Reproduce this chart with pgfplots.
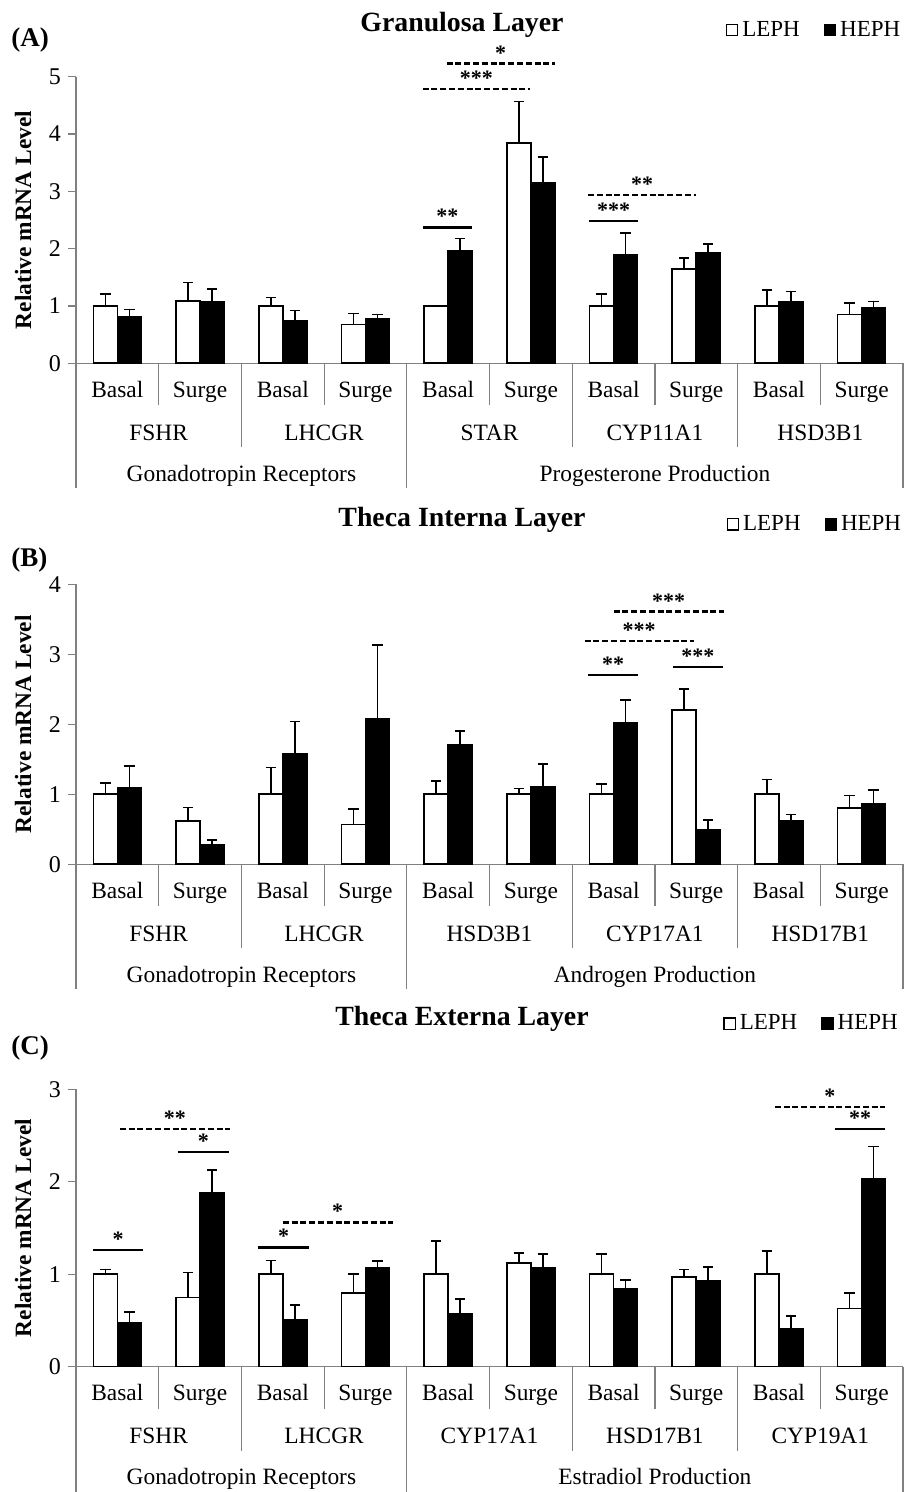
\documentclass[border=0pt]{standalone}
\usepackage{fontspec}
\setmainfont{Liberation Serif}
\usepackage{pgfplots}
\pgfplotsset{compat=1.18}
\usepackage{pgfplotstable}

% x, LEPH mean, LEPH err, HEPH mean, HEPH err
\pgfplotstableread{
x w we h he
0 1.00 0.21 0.81 0.13
1 1.09 0.32 1.08 0.22
2 1.00 0.15 0.74 0.18
3 0.68 0.19 0.77 0.08
4 1.00 0.01 1.96 0.22
5 3.84 0.73 3.15 0.45
6 1.00 0.21 1.89 0.38
7 1.64 0.20 1.93 0.15
8 1.00 0.28 1.08 0.17
9 0.85 0.20 0.97 0.11
}\dataA
\pgfplotstableread{
x w we h he
0 1.00 0.16 1.09 0.31
1 0.62 0.19 0.28 0.07
2 1.00 0.38 1.58 0.46
3 0.57 0.22 2.08 1.05
4 1.00 0.19 1.70 0.20
5 1.00 0.08 1.10 0.33
6 1.00 0.15 2.02 0.33
7 2.20 0.30 0.49 0.14
8 1.00 0.21 0.62 0.09
9 0.80 0.18 0.86 0.20
}\dataB
\pgfplotstableread{
x w we h he
0 1.00 0.05 0.48 0.11
1 0.75 0.27 1.88 0.25
2 1.00 0.15 0.51 0.16
3 0.80 0.20 1.07 0.07
4 1.00 0.36 0.57 0.16
5 1.12 0.11 1.07 0.15
6 1.00 0.22 0.84 0.10
7 0.97 0.08 0.93 0.15
8 1.00 0.25 0.41 0.14
9 0.63 0.17 2.03 0.35
}\dataC

\tikzset{
  sig/.style={line width=1.1pt, black},
  sigd/.style={line width=1.1pt, black, dash pattern=on 3pt off 1.4pt},
  star/.style={font=\bfseries\fontsize{11}{12}\selectfont, anchor=south, inner sep=0pt, yshift=1.2pt},
  sep/.style={draw=gray, line width=0.6pt},
  lab/.style={font=\fontsize{11.7}{14}\selectfont, anchor=base, inner sep=0pt},
}
\pgfplotsset{
  panel/.style={
    scale only axis, width=413.5pt,
    xmin=-0.5, xmax=9.5, ymin=0,
    axis x line*=bottom, axis y line*=left,
    axis line style={draw=gray, line width=0.6pt, -},
    xtick=\empty, ytick distance=1,
    tick align=outside, major tick length=4pt,
    tick style={draw=gray, line width=0.6pt},
    yticklabel style={font=\fontsize{12}{14}\selectfont},
    /pgf/number format/assume math mode=true,
    ylabel={Relative mRNA Level},
    ylabel style={font=\bfseries\fontsize{11.7}{14}\selectfont, at={(axis description cs:-0.064,0.5)}, anchor=center},
    ybar=0pt, bar width=0.29,
    clip=false,
    legend columns=2,
    legend style={draw=none, fill=none, inner sep=0pt, font=\fontsize{11.5}{13}\selectfont,
      /tikz/every even column/.append style={column sep=10pt}},
    legend image code/.code={\draw[#1, line width=0.6pt] (0pt,-2.8pt) rectangle (5.6pt,2.8pt);},
  },
  bw/.style={draw=black, fill=white, line width=0.8pt,
    error bars/.cd, y dir=plus, y explicit,
    error bar style={line width=0.8pt, black, solid},
    error mark options={rotate=90, mark size=2.6pt, line width=0.8pt, black}},
  bb/.style={draw=black, fill=black, line width=0.8pt,
    error bars/.cd, y dir=plus, y explicit,
    error bar style={line width=0.8pt, black, solid},
    error mark options={rotate=90, mark size=2.6pt, line width=0.8pt, black}},
}
\newcommand{\Sig}[5]{\draw[#1] (axis cs:#2,#4) -- (axis cs:#3,#4) node[midway, star]{#5};}

% rows of category labels below the axis; #1 = pixel y of the zero line
\newcommand{\rows}[8]{%
  \begin{scope}[x=0.5pt, y=-0.5pt, yshift=746pt, shift={(0,#1)}]
    \foreach \k in {1,3,5,7,9} \draw[sep] ({76+82.7*\k},0) -- ++(0,42);
    \foreach \k in {2,6,8} \draw[sep] ({76+82.7*\k},0) -- ++(0,84);
    \foreach \k in {0,4,10} \draw[sep] ({76+82.7*\k},0) -- ++(0,125);
    \foreach \k in {0,2,4,6,8} {
      \node[lab] at ({76+82.7*(\k+0.5)},34) {Basal};
      \node[lab] at ({76+82.7*(\k+1.5)},34) {Surge};
    }
    \node[lab] at ({76+82.7*1},77) {#2};
    \node[lab] at ({76+82.7*3},77) {#3};
    \node[lab] at ({76+82.7*5},77) {#4};
    \node[lab] at ({76+82.7*7},77) {#5};
    \node[lab] at ({76+82.7*9},77) {#6};
    \node[lab] at ({76+82.7*2},118) {#7};
    \node[lab] at ({76+82.7*7},118) {#8};
  \end{scope}}

\begin{document}
\begin{tikzpicture}
\path[use as bounding box] (0,0) rectangle (454.5pt,746pt);

% ---------------- Panel A ----------------
\node[font=\bfseries\fontsize{13.9}{16}\selectfont, anchor=base] at (231pt,730pt) {Granulosa Layer};
\node[font=\bfseries\fontsize{13.5}{16}\selectfont, anchor=base west, inner sep=0pt] at (5.5pt,722.5pt) {(A)};
\begin{axis}[panel, at={(38pt,564.35pt)}, anchor=south west, height=143.3pt, ymax=5,
  legend style={at={(axis description cs:1.002,1.163)}, anchor=east}]
\addplot[bw] table[x=x, y=w, y error=we] {\dataA};
\addlegendentry{LEPH}
\addplot[bb] table[x=x, y=h, y error=he] {\dataA};
\addlegendentry{HEPH}
\Sig{sig}{3.69}{4.29}{2.37}{**}
\Sig{sigd}{3.69}{4.99}{4.78}{***}
\Sig{sigd}{3.98}{5.29}{5.23}{*}
\Sig{sig}{5.70}{6.30}{2.48}{***}
\Sig{sigd}{5.69}{7.00}{2.94}{**}
\end{axis}
\rows{363.3}{FSHR}{LHCGR}{STAR}{CYP11A1}{HSD3B1}{Gonadotropin Receptors}{Progesterone Production}

% ---------------- Panel B ----------------
\node[font=\bfseries\fontsize{13.9}{16}\selectfont, anchor=base] at (231pt,482.5pt) {Theca Interna Layer};
\node[font=\bfseries\fontsize{13.5}{16}\selectfont, anchor=base west, inner sep=0pt] at (5.5pt,462.5pt) {(B)};
\begin{axis}[panel, at={(38pt,313.85pt)}, anchor=south west, height=140pt, ymax=4,
  legend style={at={(axis description cs:1.003,1.2136)}, anchor=east}]
\addplot[bw] table[x=x, y=w, y error=we] {\dataB};
\addlegendentry{LEPH}
\addplot[bb] table[x=x, y=h, y error=he] {\dataB};
\addlegendentry{HEPH}
\Sig{sig}{5.69}{6.30}{2.70}{**}
\Sig{sigd}{5.65}{6.97}{3.19}{***}
\Sig{sigd}{6.00}{7.33}{3.61}{***}
\Sig{sig}{6.72}{7.32}{2.82}{***}
\end{axis}
\rows{864.3}{FSHR}{LHCGR}{HSD3B1}{CYP17A1}{HSD17B1}{Gonadotropin Receptors}{Androgen Production}

% ---------------- Panel C ----------------
\node[font=\bfseries\fontsize{13.9}{16}\selectfont, anchor=base] at (231pt,233pt) {Theca Externa Layer};
\node[font=\bfseries\fontsize{13.5}{16}\selectfont, anchor=base west, inner sep=0pt] at (5.5pt,218.5pt) {(C)};
\begin{axis}[panel, at={(38pt,62.65pt)}, anchor=south west, height=138.7pt, ymax=3,
  legend style={at={(axis description cs:0.999,1.237)}, anchor=east}]
\addplot[bw] table[x=x, y=w, y error=we] {\dataC};
\addlegendentry{LEPH}
\addplot[bb] table[x=x, y=h, y error=he] {\dataC};
\addlegendentry{HEPH}
\Sig{sig}{-0.29}{0.31}{1.26}{*}
\Sig{sigd}{0.03}{1.36}{2.57}{**}
\Sig{sig}{0.73}{1.35}{2.32}{*}
\Sig{sig}{1.70}{2.32}{1.29}{*}
\Sig{sigd}{2.00}{3.33}{1.56}{*}
\Sig{sigd}{7.95}{9.28}{2.81}{*}
\Sig{sig}{8.68}{9.28}{2.57}{**}
\end{axis}
\rows{1366.7}{FSHR}{LHCGR}{CYP17A1}{HSD17B1}{CYP19A1}{Gonadotropin Receptors}{Estradiol Production}
\end{tikzpicture}
\end{document}
